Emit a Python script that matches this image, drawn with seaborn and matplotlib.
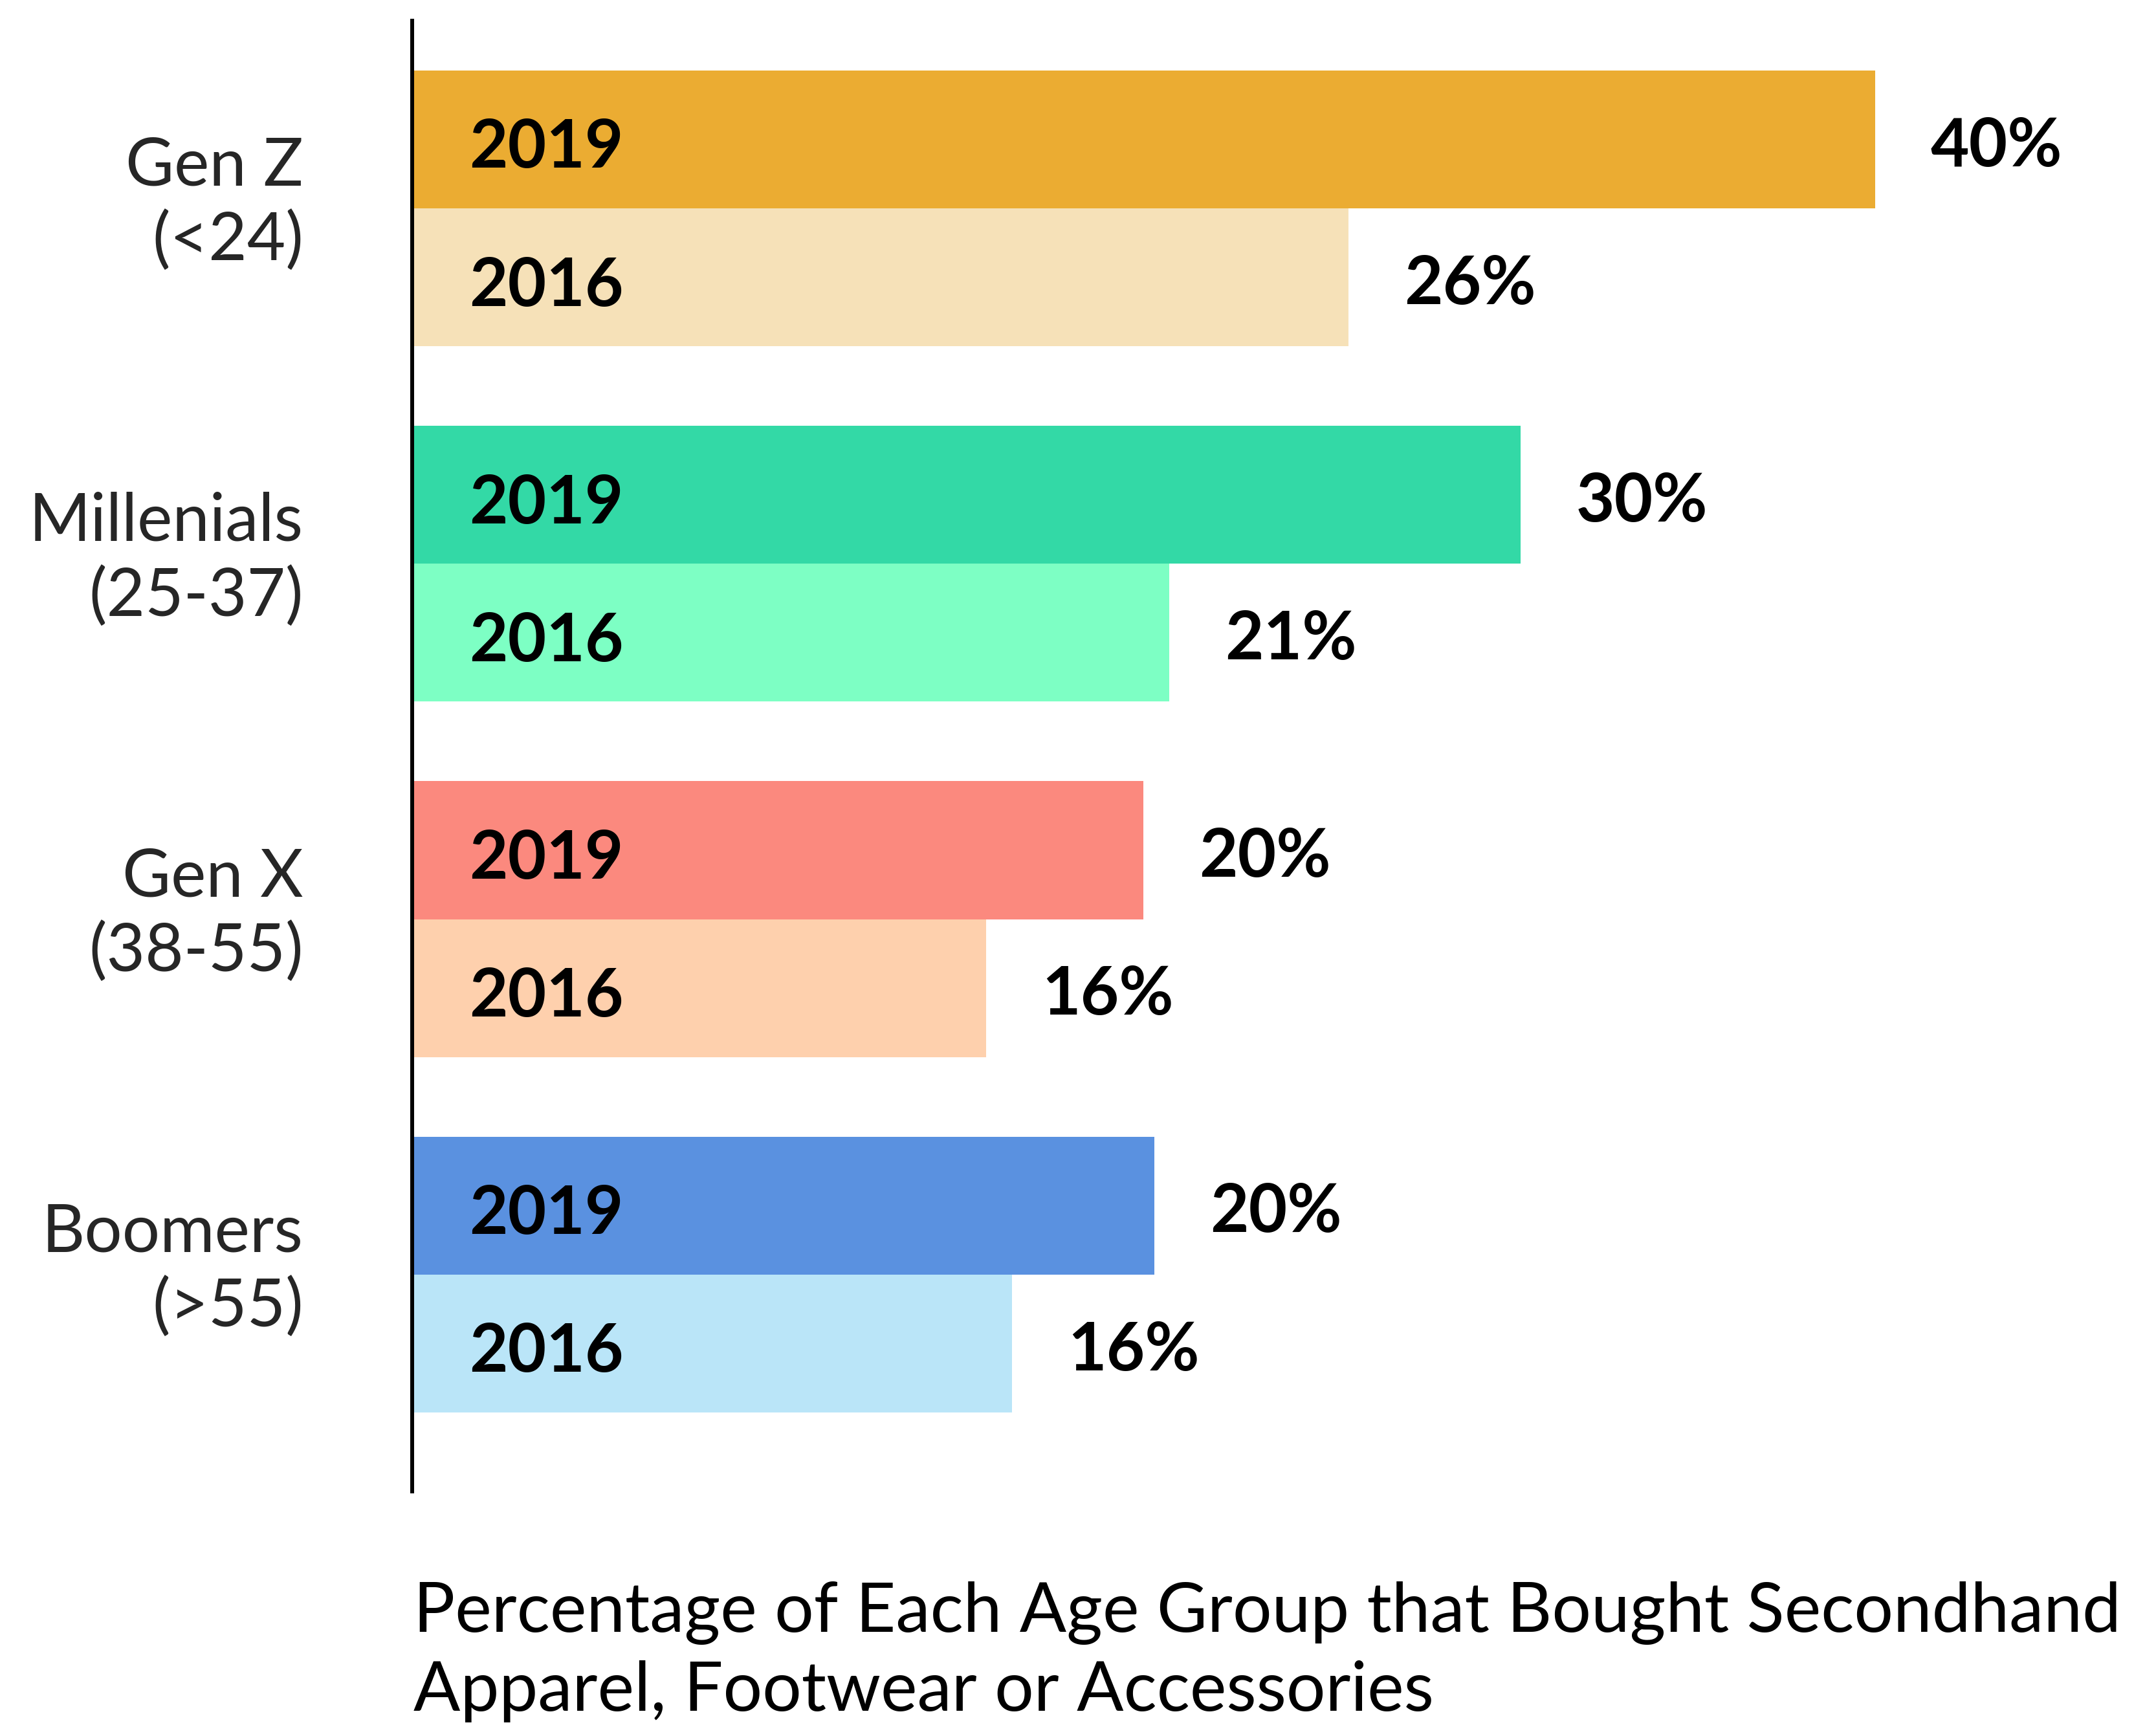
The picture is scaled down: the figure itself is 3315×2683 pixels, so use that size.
import seaborn as sns
import matplotlib.pyplot as plt
import matplotlib.transforms as mtransforms
import pandas as pd

# values (bar lengths, % of each age group)
groups = ['Gen Z\n(<24)', 'Millenials\n(25-37)', 'Gen X\n(38-55)', 'Boomers\n(>55)']
years = ['2019', '2016']
share_2019 = [40.0, 30.3, 20.0, 20.3]
share_2016 = [25.6, 20.7, 15.7, 16.4]
colors_2019 = ['#EBAC32', '#33D9A6', '#FB897E', '#5A91E0']
colors_2016 = ['#F6E1B8', '#7DFFC4', '#FED0AD', '#BAE5F8']
caption = 'Percentage of Each Age Group that Bought Secondhand\nApparel, Footwear or Accessories'

df = pd.DataFrame({
    'group': groups * 2,
    'year': [years[0]] * 4 + [years[1]] * 4,
    'share': share_2019 + share_2016,
})

sns.set_style('white')
plt.rcParams['font.family'] = ['Lato', 'DejaVu Sans']

fig = plt.figure(figsize=(33.16, 26.83), dpi=100)
ax = fig.add_axes([0.1921, 0.1409, 0.8079, 0.8472])

sns.barplot(data=df, y='group', x='share', hue='year', hue_order=years,
            order=groups, orient='h', width=0.776, dodge=True,
            saturation=1, legend=False, ax=ax)

# each bar gets its own colour
for cont, cols in zip(ax.containers, [colors_2019, colors_2016]):
    for bar, c in zip(cont, cols):
        bar.set_facecolor(c)
        bar.set_edgecolor('none')

down = mtransforms.ScaledTranslation(0, -0.14, fig.dpi_scale_trans)

# year label inside each bar, value label after it
for cont, yr in zip(ax.containers, years):
    for bar in cont:
        ax.text(1.56, bar.get_y() + bar.get_height() / 2, yr,
                ha='left', va='center', fontsize=74, fontweight='bold',
                color='black', transform=ax.transData + down)
    texts = ax.bar_label(cont, labels=[f'{b.get_width():.0f}%' for b in cont],
                         padding=62, fontsize=74, fontweight='bold', color='black')
    for t in texts:
        t.xyann = (62, -8)

ax.set_xlim(0, 47.4)
ax.set_ylim(3.61, -0.528)
ax.set_xlabel('')
ax.set_ylabel('')
ax.set_xticks([])
ax.tick_params(axis='y', length=0, pad=121, labelsize=74)
up = mtransforms.ScaledTranslation(0, 0.26, fig.dpi_scale_trans)
for lab in ax.get_yticklabels():
    lab.set_horizontalalignment('right')
    lab.set_linespacing(1.27)
    lab.set_transform(lab.get_transform() + up)

for s in ['top', 'right', 'bottom']:
    ax.spines[s].set_visible(False)
ax.spines['left'].set_color('black')
ax.spines['left'].set_linewidth(4.3)

fig.text(0.1927, 0.089, caption, ha='left', va='top', fontsize=77,
         linespacing=1.31, color='black')

fig.savefig('out.png', dpi=100, facecolor='white')
